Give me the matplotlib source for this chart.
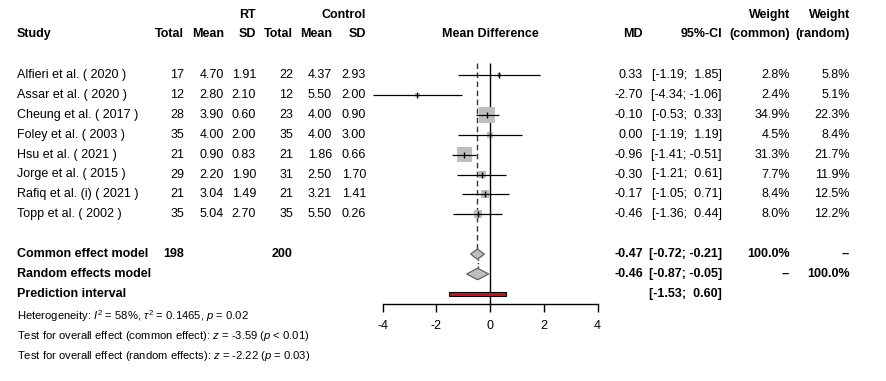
import numpy as np
import matplotlib
matplotlib.use('Agg')
from matplotlib import pyplot as plt
from matplotlib.patches import Polygon, Rectangle

plt.rcParams['font.family'] = ['Liberation Sans', 'DejaVu Sans']
plt.rcParams['mathtext.fontset'] = 'custom'
plt.rcParams['mathtext.rm'] = 'Liberation Sans'
plt.rcParams['mathtext.it'] = 'Liberation Sans:italic'

# data
studies = ['Alfieri et al. ( 2020 )', 'Assar et al. ( 2020 )', 'Cheung et al. ( 2017 )',
           'Foley et al. ( 2003 )', 'Hsu et al. ( 2021 )', 'Jorge et al. ( 2015 )',
           'Rafiq et al. (i) ( 2021 )', 'Topp et al. ( 2002 )']
rt_total = [17, 12, 28, 35, 21, 29, 21, 35]
rt_mean = [4.70, 2.80, 3.90, 4.00, 0.90, 2.20, 3.04, 5.04]
rt_sd = [1.91, 2.10, 0.60, 2.00, 0.83, 1.90, 1.49, 2.70]
ctl_total = [22, 12, 23, 35, 21, 31, 21, 35]
ctl_mean = [4.37, 5.50, 4.00, 4.00, 1.86, 2.50, 3.21, 5.50]
ctl_sd = [2.93, 2.00, 0.90, 3.00, 0.66, 1.70, 1.41, 0.26]
md = [0.33, -2.70, -0.10, 0.00, -0.96, -0.30, -0.17, -0.46]
ci_low = [-1.19, -4.34, -0.53, -1.19, -1.41, -1.21, -1.05, -1.36]
ci_high = [1.85, -1.06, 0.33, 1.19, -0.51, 0.61, 0.71, 0.44]
w_common = [2.8, 2.4, 34.9, 4.5, 31.3, 7.7, 8.4, 8.0]
w_random = [5.8, 5.1, 22.3, 8.4, 21.7, 11.9, 12.5, 12.2]

common_md, common_lo, common_hi = -0.47, -0.72, -0.21
random_md, random_lo, random_hi = -0.46, -0.87, -0.05
pred_lo, pred_hi = -1.53, 0.60
n_rt_total, n_ctl_total = 198, 200
xticks = [-4, -2, 0, 2, 4]

W, H = 886, 381
ROW0, ROWH = 75, 19.9   # pixel y of first study row, row height
FS = 9


def row_y(r):
    return ROW0 + (r - 1) * ROWH


fig = plt.figure(figsize=(W / 100, H / 100), dpi=100)

# text layer in pixel coordinates
tab = fig.add_axes([0, 0, 1, 1])
tab.set_xlim(0, W)
tab.set_ylim(H, 0)
tab.axis('off')

# forest panel, x in mean difference units
x0, scale = 490, 26.875
ax_left = x0 - 5 * scale
axis_px = 304
top_px = 55
r_bot = 1 + (axis_px - ROW0) / ROWH
r_top = 1 + (top_px - ROW0) / ROWH
ax = fig.add_axes([ax_left / W, (H - axis_px) / H, 10 * scale / W, (axis_px - top_px) / H])
ax.set_xlim(-5, 5)
ax.set_ylim(r_bot, r_top)
ax.patch.set_visible(False)
for s in ['top', 'right', 'left']:
    ax.spines[s].set_visible(False)
ax.spines['bottom'].set_bounds(-4, 4)
ax.spines['bottom'].set_linewidth(1.0)
ax.set_yticks([])
ax.set_xticks(xticks)
ax.set_xticklabels([str(t) for t in xticks])
ax.tick_params(axis='x', length=5.8, width=1.0, pad=6, labelsize=FS)

# headers
bold = dict(fontsize=FS, fontweight='bold', va='center')
tab.text(17, 34, 'Study', ha='left', **bold)
tab.text(256, 15, 'RT', ha='right', **bold)
tab.text(366, 15, 'Control', ha='right', **bold)
for x, lab in [(184, 'Total'), (224, 'Mean'), (256, 'SD'), (293, 'Total'), (332, 'Mean'), (366, 'SD')]:
    tab.text(x, 34, lab, ha='right', **bold)
tab.text(x0, 34, 'Mean Difference', ha='center', **bold)
tab.text(643, 34, 'MD', ha='right', **bold)
tab.text(722, 34, '95%-CI', ha='right', **bold)
tab.text(790, 15, 'Weight', ha='right', **bold)
tab.text(790, 34, '(common)', ha='right', **bold)
tab.text(850, 15, 'Weight', ha='right', **bold)
tab.text(850, 34, '(random)', ha='right', **bold)


def fmt_ci(lo, hi):
    a = '%.2f' % lo
    b = '%.2f' % hi
    return '[%s;%s%s]' % (a, ' ' if hi < 0 else '  ', b)


norm = dict(fontsize=FS, va='center')
rows = np.arange(1, len(studies) + 1)
for i, r in enumerate(rows):
    y = row_y(r)
    tab.text(17, y, studies[i], ha='left', **norm)
    tab.text(184, y, '%d' % rt_total[i], ha='right', **norm)
    tab.text(224, y, '%.2f' % rt_mean[i], ha='right', **norm)
    tab.text(256, y, '%.2f' % rt_sd[i], ha='right', **norm)
    tab.text(293, y, '%d' % ctl_total[i], ha='right', **norm)
    tab.text(332, y, '%.2f' % ctl_mean[i], ha='right', **norm)
    tab.text(366, y, '%.2f' % ctl_sd[i], ha='right', **norm)
    tab.text(643, y, '%.2f' % md[i], ha='right', **norm)
    tab.text(722, y, fmt_ci(ci_low[i], ci_high[i]), ha='right', **norm)
    tab.text(790, y, '%.1f%%' % w_common[i], ha='right', **norm)
    tab.text(850, y, '%.1f%%' % w_random[i], ha='right', **norm)

r_com, r_ran, r_pred = 10, 11, 12
tab.text(17, row_y(r_com), 'Common effect model', ha='left', **bold)
tab.text(184, row_y(r_com), '%d' % n_rt_total, ha='right', **bold)
tab.text(293, row_y(r_com), '%d' % n_ctl_total, ha='right', **bold)
tab.text(643, row_y(r_com), '%.2f' % common_md, ha='right', **bold)
tab.text(722, row_y(r_com), fmt_ci(common_lo, common_hi), ha='right', **bold)
tab.text(790, row_y(r_com), '100.0%', ha='right', **bold)
tab.text(850, row_y(r_com), '--', ha='right', **bold)

tab.text(17, row_y(r_ran), 'Random effects model', ha='left', **bold)
tab.text(643, row_y(r_ran), '%.2f' % random_md, ha='right', **bold)
tab.text(722, row_y(r_ran), fmt_ci(random_lo, random_hi), ha='right', **bold)
tab.text(790, row_y(r_ran), '--', ha='right', **bold)
tab.text(850, row_y(r_ran), '100.0%', ha='right', **bold)

tab.text(17, row_y(r_pred), 'Prediction interval', ha='left', **bold)
tab.text(722, row_y(r_pred), fmt_ci(pred_lo, pred_hi), ha='right', **bold)

small = dict(fontsize=8.1, va='center', ha='left')
tab.text(17, 316, r'Heterogeneity: $I^2$ = 58%, $\tau^2$ = 0.1465, $p$ = 0.02', **small)
tab.text(17, 336, r'Test for overall effect (common effect): $z$ = -3.59 ($p$ < 0.01)', **small)
tab.text(17, 356, r'Test for overall effect (random effects): $z$ = -2.22 ($p$ = 0.03)', **small)

# reference lines
ax.vlines(0, 0.4, r_bot, color='black', lw=1.0, zorder=1)
ax.vlines(common_md, 0.4, r_com - 0.27, color='#333333', lw=1.0, linestyles=(0, (4, 2.5)), zorder=1)
ax.vlines(random_md, r_com + 0.27, r_ran - 0.3, color='#333333', lw=1.0, linestyles=(0, (1, 1.5)), zorder=1)

# study squares, CIs and point ticks
sq = 2.75 * np.sqrt(w_common) * 0.72
ax.scatter(md, rows, marker='s', s=sq ** 2, color='#BEBEBE', edgecolors='none', zorder=2)
ax.hlines(rows, ci_low, ci_high, color='black', lw=0.9, zorder=3)
ax.scatter(md, rows, marker='|', s=25, color='black', linewidths=1.0, zorder=4)

# summary diamonds
for est, lo, hi, r, h in [(common_md, common_lo, common_hi, r_com, 0.26),
                          (random_md, random_lo, random_hi, r_ran, 0.29)]:
    ax.add_patch(Polygon([(lo, r), (est, r - h), (hi, r), (est, r + h)], closed=True,
                         facecolor='#BEBEBE', edgecolor='#555555', lw=0.8, zorder=3))

# prediction interval
ax.add_patch(Rectangle((pred_lo, r_pred - 0.1), pred_hi - pred_lo, 0.2,
                       facecolor='#C4161C', edgecolor='black', lw=0.8, zorder=3))

fig.savefig('out.png', dpi=100)
